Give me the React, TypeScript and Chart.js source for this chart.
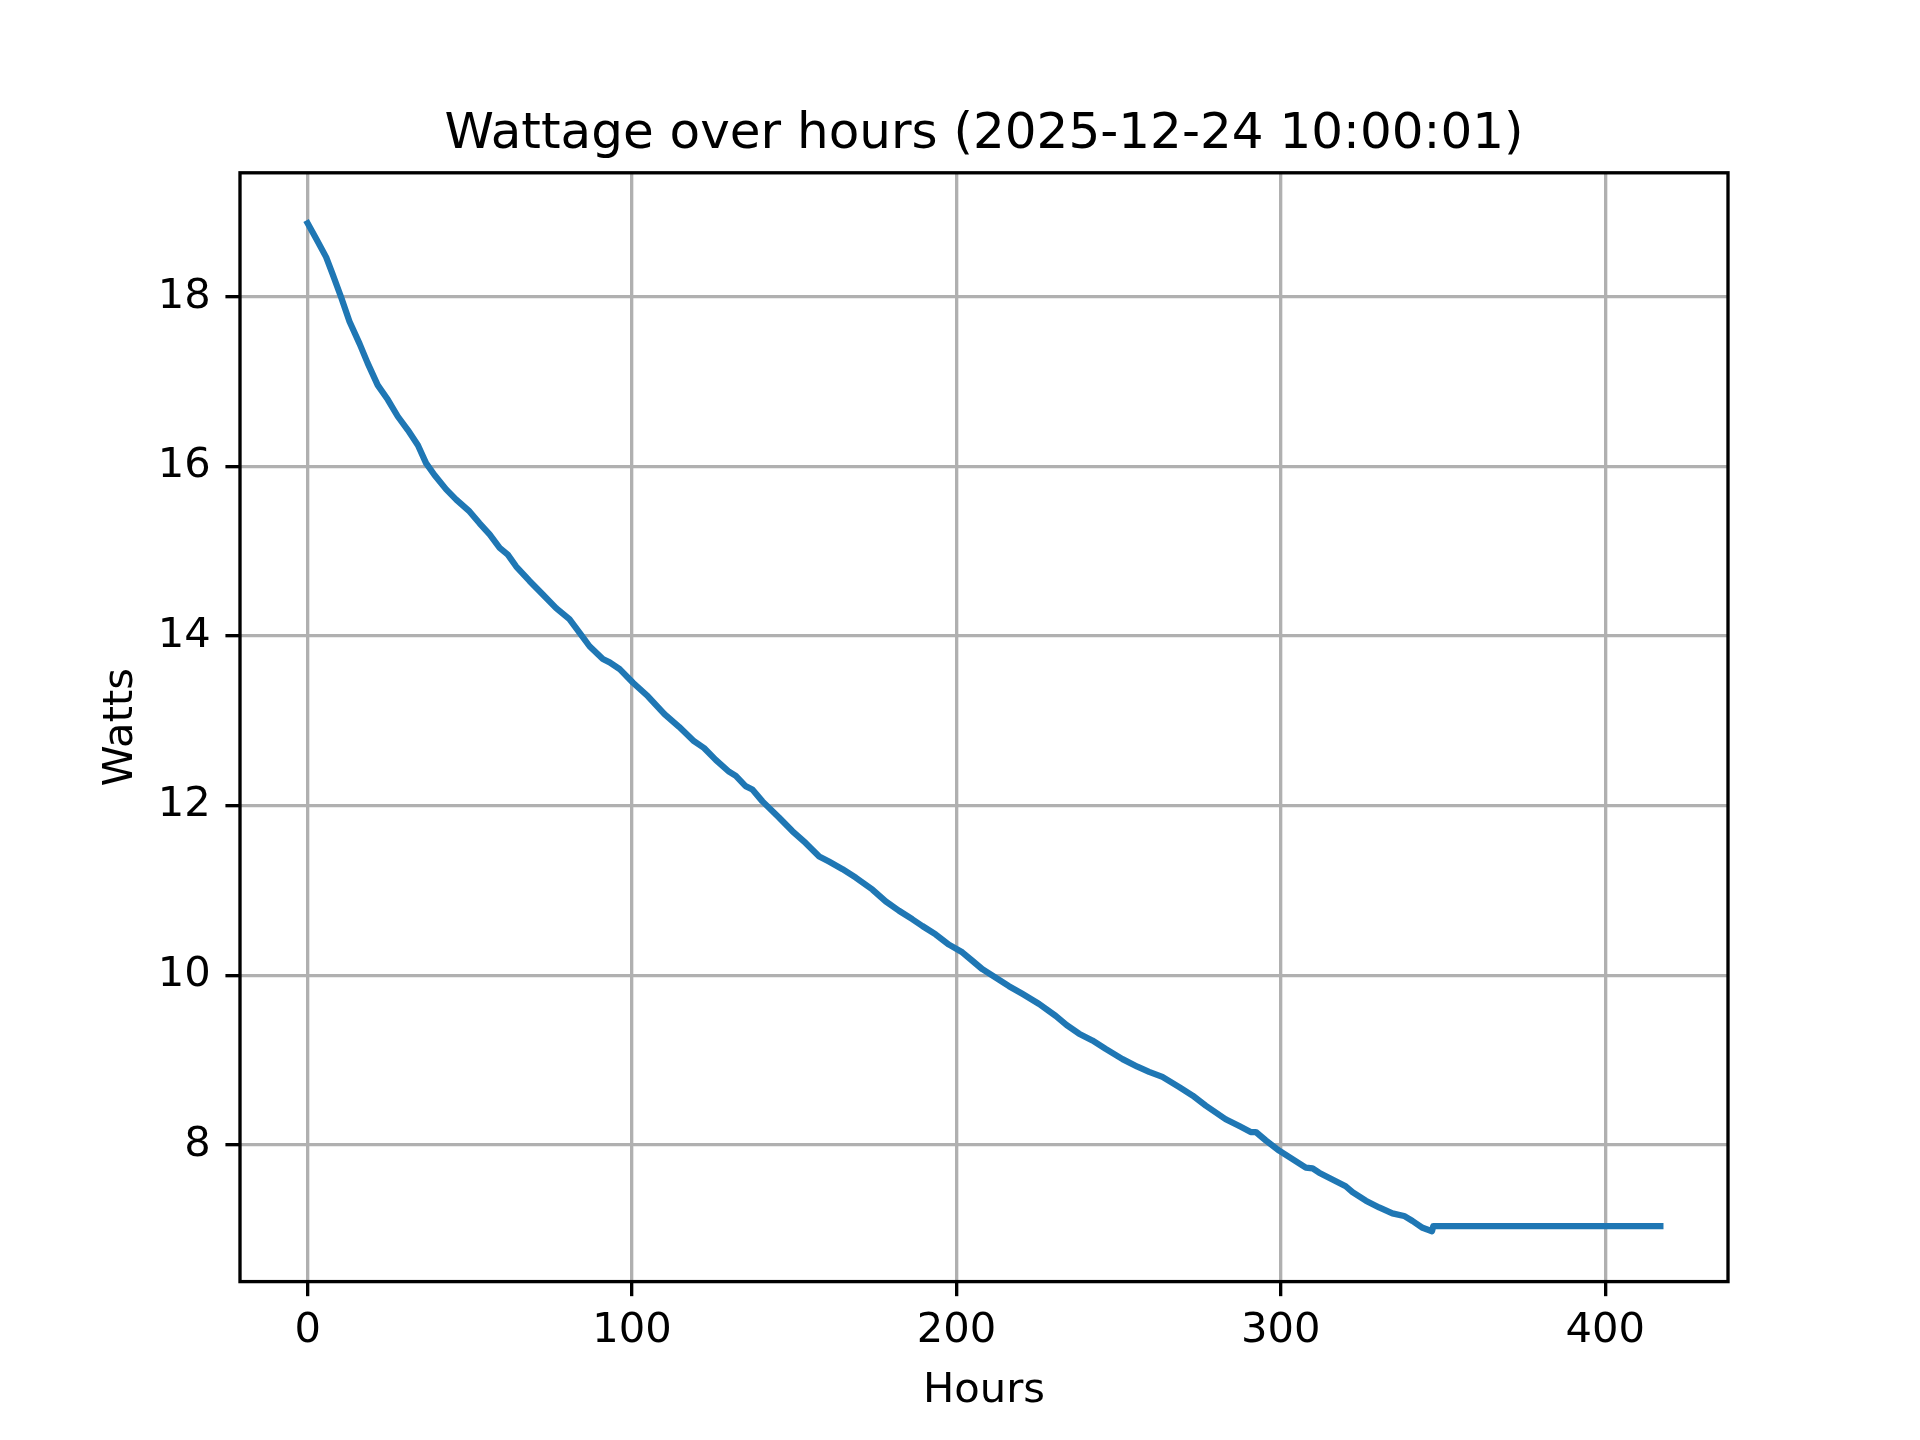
import React, { useEffect, useRef } from "react";
import { Chart, registerables } from "chart.js";

Chart.register(...registerables);

const titleText = "Wattage over hours (2025-12-24 10:00:01)";
const xLabel = "Hours";
const yLabel = "Watts";

const xTicks = [0, 100, 200, 300, 400];
const yTicks = [8, 10, 12, 14, 16, 18];

const hours = [
  0, 2.6, 5.7, 7.7, 10.3, 12.9, 16.0, 18.5, 21.6, 24.7, 27.8, 30.9, 34.0, 36.5, 39.1,
  42.7, 45.8, 49.9, 53.0, 56.1, 59.2, 61.7, 64.3, 68.4, 72.5, 76.6, 80.7, 83.8, 86.9,
  91.0, 93.1, 96.2, 100.3, 104.9, 110.0, 114.5, 119.1, 122.2, 125.8, 129.9, 132.0,
  135.0, 137.1, 140.2, 145.3, 149.4, 153.5, 157.7, 160.7, 164.9, 169.0, 174.1, 178.2,
  182.3, 186.4, 189.5, 193.6, 197.7, 201.8, 204.9, 208.0, 212.1, 216.2, 220.3, 225.5,
  230.6, 234.0, 237.8, 241.9, 246.0, 251.2, 255.8, 259.4, 263.5, 268.7, 272.8, 276.9,
  283.0, 287.2, 290.7, 292.3, 295.4, 299.5, 303.6, 307.7, 309.8, 311.8, 315.9, 320.0,
  322.1, 326.2, 330.3, 334.4, 338.0, 340.6, 343.7, 346.6, 347.0, 360.0, 380.0, 400.0,
  417.0,
];

const watts = [
  18.87, 18.69, 18.47, 18.27, 18.0, 17.71, 17.45, 17.22, 16.96, 16.79, 16.59, 16.43,
  16.25, 16.04, 15.9, 15.73, 15.61, 15.47, 15.33, 15.2, 15.04, 14.96, 14.82, 14.65,
  14.49, 14.33, 14.2, 14.04, 13.88, 13.73, 13.69, 13.61, 13.45, 13.29, 13.08, 12.93,
  12.76, 12.68, 12.54, 12.4, 12.35, 12.23, 12.19, 12.05, 11.86, 11.7, 11.56, 11.4,
  11.34, 11.25, 11.15, 11.01, 10.87, 10.76, 10.66, 10.58, 10.48, 10.36, 10.27, 10.17,
  10.07, 9.97, 9.87, 9.78, 9.66, 9.52, 9.41, 9.31, 9.23, 9.13, 9.01, 8.92, 8.86, 8.8,
  8.68, 8.58, 8.46, 8.3, 8.22, 8.15, 8.15, 8.05, 7.93, 7.83, 7.73, 7.72, 7.67, 7.59,
  7.51, 7.44, 7.34, 7.26, 7.19, 7.16, 7.1, 7.02, 6.98, 7.04, 7.04, 7.04, 7.04, 7.04,
];

const PT = 300 / 72;
const FONT = "DejaVu Sans";

export default function App() {
  const ref = useRef<HTMLCanvasElement>(null);

  useEffect(() => {
    document.body.style.margin = "0";
    const xMinD = Math.min(...hours);
    const xMaxD = Math.max(...hours);
    const yMinD = Math.min(...watts);
    const yMaxD = Math.max(...watts);
    const xm = (xMaxD - xMinD) * 0.05;
    const ym = (yMaxD - yMinD) * 0.05;

    const spinesAndTitle = {
      id: "spinesAndTitle",
      afterDatasetsDraw(chart: any) {
        const { ctx, chartArea: a } = chart;
        ctx.save();
        ctx.strokeStyle = "#000";
        ctx.lineWidth = 0.8 * PT;
        ctx.lineJoin = "miter";
        ctx.strokeRect(a.left, a.top, a.right - a.left, a.bottom - a.top);
        ctx.fillStyle = "#000";
        ctx.font = `${12 * PT}px "${FONT}"`;
        ctx.textAlign = "center";
        ctx.textBaseline = "alphabetic";
        ctx.fillText(titleText, (a.left + a.right) / 2, a.top - 6 * PT);
        ctx.restore();
      },
    };

    const tickFont = { family: FONT, size: 10 * PT, lineHeight: 1 };

    const chart = new Chart(ref.current as HTMLCanvasElement, {
      type: "line",
      data: {
        datasets: [
          {
            data: hours.map((h, i) => ({ x: h, y: watts[i] })),
            borderColor: "#1f77b4",
            backgroundColor: "#1f77b4",
            borderWidth: 1.5 * PT,
            pointRadius: 0,
            tension: 0,
            fill: false,
            borderCapStyle: "square",
            borderJoinStyle: "round",
          },
        ],
      },
      options: {
        animation: false,
        responsive: false,
        devicePixelRatio: 1,
        layout: { padding: { left: 0, right: 192, top: 172.8, bottom: 0 } },
        plugins: {
          legend: { display: false },
          tooltip: { enabled: false },
          title: { display: false },
        },
        scales: {
          x: {
            type: "linear",
            min: xMinD - xm,
            max: xMaxD + xm,
            afterBuildTicks: (s: any) => {
              s.ticks = xTicks.map((v) => ({ value: v }));
            },
            afterFit: (s: any) => {
              s.height = 158.4;
            },
            grid: {
              color: "#b0b0b0",
              lineWidth: 0.8 * PT,
              tickColor: "#000",
              tickWidth: 0.8 * PT,
              tickLength: 3.5 * PT,
            },
            border: { display: false },
            ticks: {
              color: "#000",
              font: tickFont,
              padding: 14.1,
              maxRotation: 0,
              autoSkip: false,
              callback: (v: any) => String(v),
            },
            title: {
              display: true,
              text: xLabel,
              color: "#000",
              font: tickFont,
              padding: { top: 0, bottom: 27.8 },
            },
          },
          y: {
            type: "linear",
            min: yMinD - ym,
            max: yMaxD + ym,
            afterBuildTicks: (s: any) => {
              s.ticks = yTicks.map((v) => ({ value: v }));
            },
            afterFit: (s: any) => {
              s.width = 240;
            },
            grid: {
              color: "#b0b0b0",
              lineWidth: 0.8 * PT,
              tickColor: "#000",
              tickWidth: 0.8 * PT,
              tickLength: 3.5 * PT,
            },
            border: { display: false },
            ticks: {
              color: "#000",
              font: tickFont,
              padding: 3.5 * PT,
              autoSkip: false,
              callback: (v: any) => String(v),
            },
            title: {
              display: true,
              text: yLabel,
              color: "#000",
              font: tickFont,
              padding: { top: 100.5, bottom: 0 },
            },
          },
        },
      },
      plugins: [spinesAndTitle],
    } as any);

    return () => chart.destroy();
  }, []);

  return (
    <canvas
      ref={ref}
      width={1920}
      height={1440}
      style={{ display: "block", width: 1920, height: 1440 }}
    />
  );
}
